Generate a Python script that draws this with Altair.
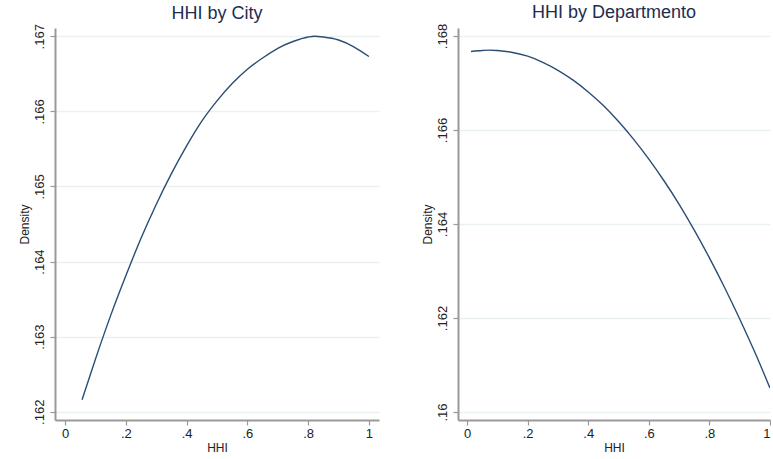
import altair as alt
import pandas as pd

# Estimated density of HHI by city
city_hhi = [0.056, 0.1, 0.15, 0.2, 0.25, 0.3, 0.35, 0.4, 0.45, 0.5, 0.55,
            0.6, 0.65, 0.7, 0.75, 0.8, 0.82, 0.85, 0.9, 0.95, 1.0]
city_density = [0.16216, 0.16270, 0.16328, 0.16381, 0.16431, 0.16476, 0.16517,
                0.16554, 0.16587, 0.16614, 0.16637, 0.16656, 0.16671, 0.16684,
                0.16693, 0.16699, 0.16700, 0.16699, 0.16695, 0.16686, 0.16673]

# Estimated density of HHI by departamento
dept_hhi = [0.013, 0.05, 0.075, 0.1, 0.15, 0.2, 0.25, 0.3, 0.35, 0.4, 0.45,
            0.5, 0.55, 0.6, 0.65, 0.7, 0.75, 0.8, 0.85, 0.9, 0.95, 1.0]
dept_density = [0.16767, 0.16769, 0.16770, 0.16769, 0.16765, 0.16757, 0.16744,
                0.16727, 0.16706, 0.16681, 0.16652, 0.16618, 0.16580, 0.16538,
                0.16492, 0.16442, 0.16387, 0.16328, 0.16265, 0.16198, 0.16127,
                0.16051]

x_ticks = [0, 0.2, 0.4, 0.6, 0.8, 1.0]
city_y_ticks = [0.162, 0.163, 0.164, 0.165, 0.166, 0.167]
dept_y_ticks = [0.160, 0.162, 0.164, 0.166, 0.168]

FONT = "Liberation Sans"
LINE = "#2b4d74"
TITLE_COLOR = "#1e2d4f"

city_df = pd.DataFrame({"hhi": city_hhi, "density": city_density})
dept_df = pd.DataFrame({"hhi": dept_hhi, "density": dept_density})

# Stata-style labels: drop the leading zero (".2", ".167")
label_expr = "replace(format(datum.value, ''), /^0(?=\\.)/, '')"


def panel(df, title, x_domain, y_domain, y_ticks, width):
    return (
        alt.Chart(df, title=alt.TitleParams(title, fontSize=18, font=FONT,
                                            color=TITLE_COLOR, fontWeight="normal",
                                            anchor="middle", offset=1))
        .mark_line(color=LINE, strokeWidth=1.4, interpolate="monotone", clip=True)
        .encode(
            x=alt.X("hhi:Q", title="HHI",
                    scale=alt.Scale(domain=x_domain, nice=False, zero=False),
                    axis=alt.Axis(values=x_ticks, labelExpr=label_expr, grid=False,
                                  labelFlush=1, titlePadding=2)),
            y=alt.Y("density:Q", title="Density",
                    scale=alt.Scale(domain=y_domain, nice=False, zero=False),
                    axis=alt.Axis(values=y_ticks, labelExpr=label_expr, grid=True,
                                  labelAngle=270, labelAlign="center",
                                  labelBaseline="bottom", labelPadding=4,
                                  titlePadding=2)),
        )
        .properties(width=width, height=392)
    )


left = panel(city_df, "HHI by City", [-0.033, 1.033], [0.16189, 0.16711],
             city_y_ticks, 324)
right = panel(dept_df, "HHI by Departmento", [-0.03, 1.0], [0.15983, 0.16817],
              dept_y_ticks, 312)

chart = (
    alt.hconcat(left, right, spacing=42)
    .properties(padding={"left": 18, "right": 0, "top": 4, "bottom": 2},
                background="white")
    .configure_view(stroke=None)
    .configure_axis(
        labelFont=FONT, titleFont=FONT, labelFontSize=13, titleFontSize=12,
        labelColor="#222222", titleColor="#222222", titleFontWeight="normal",
        domainColor="#999999", domainWidth=2, tickColor="#999999", tickSize=5,
        tickWidth=1.2, gridColor="#e9f1f3", gridWidth=1.5,
    )
)

chart.save("out.html", embed_options={"renderer": "svg", "actions": False})
